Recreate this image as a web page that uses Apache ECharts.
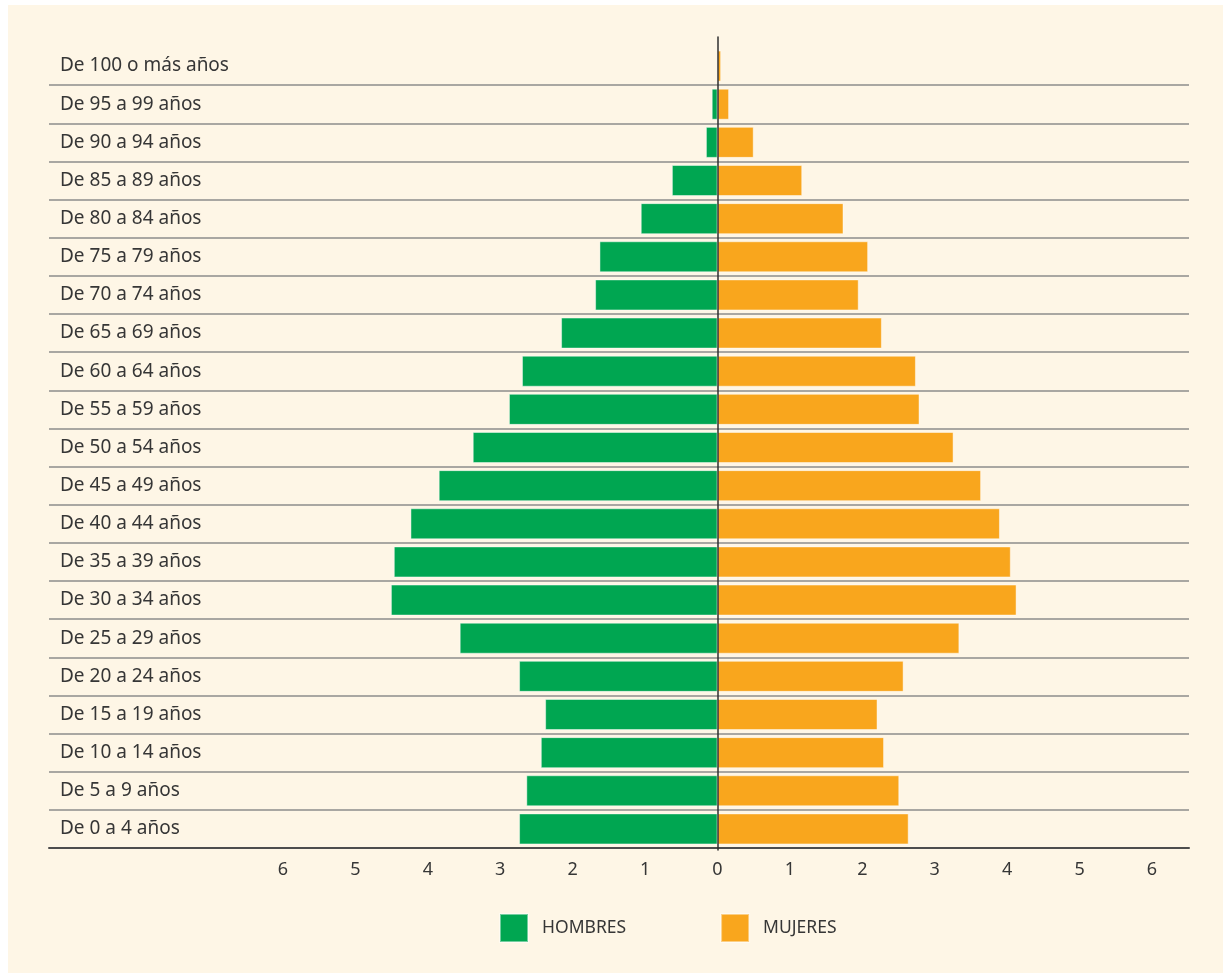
<!DOCTYPE html>
<html>
<head>
<meta charset="utf-8">
<script src="https://cdn.jsdelivr.net/npm/echarts@6/dist/echarts.min.js"></script>
<style>
  html, body { margin: 0; padding: 0; background: #ffffff; }
  #chart { position: absolute; left: 8px; top: 5px; width: 1215px; height: 968px; }
</style>
</head>
<body>
<div id="chart"></div>
<script>
// Age groups, listed from the youngest (bottom row) to the oldest (top row)
const ageGroups = [
  'De 0 a 4 años', 'De 5 a 9 años', 'De 10 a 14 años', 'De 15 a 19 años',
  'De 20 a 24 años', 'De 25 a 29 años', 'De 30 a 34 años', 'De 35 a 39 años',
  'De 40 a 44 años', 'De 45 a 49 años', 'De 50 a 54 años', 'De 55 a 59 años',
  'De 60 a 64 años', 'De 65 a 69 años', 'De 70 a 74 años', 'De 75 a 79 años',
  'De 80 a 84 años', 'De 85 a 89 años', 'De 90 a 94 años', 'De 95 a 99 años',
  'De 100 o más años'
];

// Share of the population (%) per age group
const hombres = [
  2.74, 2.64, 2.44, 2.38, 2.74, 3.56, 4.51, 4.47, 4.24, 3.85, 3.38,
  2.88, 2.70, 2.16, 1.69, 1.63, 1.06, 0.63, 0.16, 0.08, 0.00
];
const mujeres = [
  2.64, 2.51, 2.30, 2.21, 2.57, 3.34, 4.13, 4.05, 3.90, 3.64, 3.26,
  2.79, 2.74, 2.27, 1.95, 2.08, 1.74, 1.17, 0.50, 0.16, 0.05
];

// Horizontal axis limits (the men side is drawn to the left of zero)
const axisMin = -6;
const axisMax = 6;
const axisStep = 1;

const seriesNames = ['HOMBRES', 'MUJERES'];
const colors = { hombres: '#00a651', mujeres: '#f9a61d' };

const textColor = '#363636';
const fontFamily = '"Noto Sans", "Open Sans", sans-serif';

const chart = echarts.init(document.getElementById('chart'), null, { renderer: 'canvas' });

const rowsTop = 42, rowsBottom = 125;

chart.setOption({
  backgroundColor: '#fef6e6',
  animation: false,
  textStyle: { fontFamily: fontFamily },
  legend: {
    data: seriesNames,
    left: 491,
    top: 908,
    padding: 0,
    itemWidth: 28,
    itemHeight: 28,
    itemGap: 94,
    icon: 'rect',
    textStyle: { color: textColor, fontSize: 17.5, padding: [0, 0, 0, 9], fontFamily: fontFamily }
  },
  grid: [
    // row labels and row separators
    { left: 41, right: 34, top: rowsTop, bottom: rowsBottom },
    // bars
    { left: 275, right: 71, top: rowsTop, bottom: rowsBottom },
    // zero line
    { left: 275, right: 71, top: 32, bottom: 123 }
  ],
  xAxis: [
    {
      gridIndex: 0, type: 'value', min: 0, max: 1,
      axisLine: { show: true, lineStyle: { color: '#4d4d4d', width: 2 } },
      axisTick: { show: false }, axisLabel: { show: false }, splitLine: { show: false }
    },
    {
      gridIndex: 1, type: 'value', min: axisMin, max: axisMax, interval: axisStep,
      axisLine: { show: false }, axisTick: { show: false }, splitLine: { show: false },
      axisLabel: {
        color: textColor, fontSize: 18, margin: 13,
        formatter: v => String(Math.abs(v))
      }
    },
    {
      gridIndex: 2, type: 'value', min: axisMin, max: axisMax,
      axisLine: { show: false }, axisTick: { show: false },
      axisLabel: { show: false }, splitLine: { show: false }
    }
  ],
  yAxis: [
    {
      gridIndex: 0, type: 'category', data: ageGroups,
      axisLine: { show: false }, axisTick: { show: false },
      axisLabel: { inside: true, margin: 11, color: textColor, fontSize: 19, lineHeight: 23, padding: [2, 0, 0, 0] },
      splitLine: {
        show: true, showMinLine: false, showMaxLine: false,
        lineStyle: { color: '#a9a7a2', width: 2 }
      }
    },
    {
      gridIndex: 1, type: 'category', data: ageGroups,
      axisLine: { show: false }, axisTick: { show: false },
      axisLabel: { show: false }, splitLine: { show: false }
    },
    {
      gridIndex: 2, type: 'value', min: 0, max: 1, z: 5,
      axisLine: { show: true, onZero: true, lineStyle: { color: '#2f2f2f', width: 1.5 } },
      axisTick: { show: false }, axisLabel: { show: false }, splitLine: { show: false }
    }
  ],
  series: [
    {
      name: seriesNames[0], type: 'bar', xAxisIndex: 1, yAxisIndex: 1,
      data: hombres.map(v => -v),
      barWidth: 31, barGap: '-100%',
      itemStyle: { color: colors.hombres, borderColor: 'rgba(255,255,255,0.45)', borderWidth: 1 }
    },
    {
      name: seriesNames[1], type: 'bar', xAxisIndex: 1, yAxisIndex: 1,
      data: mujeres,
      barWidth: 31, barGap: '-100%',
      itemStyle: { color: colors.mujeres, borderColor: 'rgba(255,255,255,0.45)', borderWidth: 1 }
    }
  ]
});
</script>
</body>
</html>
